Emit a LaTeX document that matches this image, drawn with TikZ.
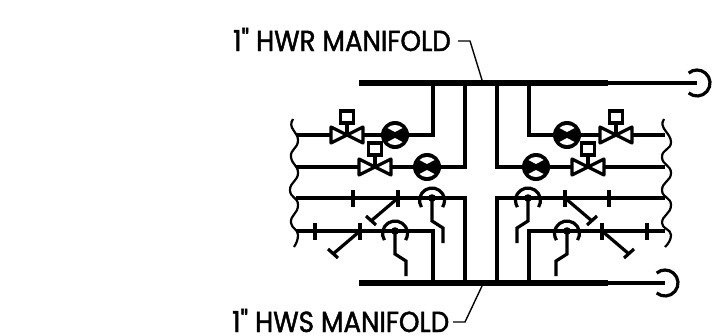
\documentclass[tikz,border=0pt]{standalone}
\usepackage{fontspec}
\newfontfamily\tagfont[FakeBold=1.6,FakeStretch=0.9]{Poppins}
\usetikzlibrary{positioning}
\tikzset{
  pipe/.style={line width=3.2pt},
  symbol/.style={line width=3.2pt},
  manifold/.style={line width=5.8pt},
  leader/.style={line width=1.4pt},
  breakline/.style={line width=2.2pt},
  tag/.style={anchor=base west,inner sep=0pt,text depth=0pt,font=\tagfont\fontsize{29}{29}\selectfont},
  ctrlvalve/.pic={
    \draw[symbol,fill=white,line join=round] (-16,-8) -- (16,8) -- (16,-8) -- (-16,8) -- cycle;
    \draw[symbol] (0,0) -- (0,-12);
    \draw[symbol,fill=white] (-6.2,-24) rectangle (6.2,-12);
  },
  balvalve/.pic={
    \fill (0,0) circle (14);
    \fill[white] (0,-3) -- (7.5,-7) .. controls (4,-11) and (-4,-11) .. (-7.5,-7) -- cycle;
    \fill[white] (0,3) -- (7.5,7) .. controls (4,11) and (-4,11) .. (-7.5,7) -- cycle;
  },
  gaugetap/.pic={
    \draw[pipe] ([shift={(0,2.5)}]148:12.5) arc[start angle=148,end angle=392,radius=12.5];
    \fill (0,0) circle (3.8);
    \draw[pipe] (0,0) -- (0,23) -- (11,30) -- (11,45);
  },
  tapoff/.pic={
    \draw[pipe] (0,-8.5) -- (0,8.5);
    \draw[pipe] (0,0) -- (-27,23);
    \draw[pipe] (-32,18) -- (-22,27);
  },
  endcap/.pic={
    \draw[pipe] (130:13) arc[start angle=130,end angle=-130,radius=13];
  },
}
\begin{document}
\begin{tikzpicture}[x=1pt,y=-1pt]
  \useasboundingbox (0,0) rectangle (719,335);

  % manifold ends and pipe runs
  \coordinate (topl) at (359,83);
  \coordinate (topr) at (608,83);
  \coordinate (topend) at (697,83);
  \coordinate (botl) at (359,283);
  \coordinate (botr) at (608,283);
  \coordinate (botend) at (665,283);

  % left rows
  \draw[pipe,line join=miter] (433,83) -- (433,135) -- (296,135);
  \draw[pipe,line join=miter] (465,83) -- (465,167) -- (296,167);
  \draw[pipe,line join=miter] (465,283) -- (465,198) -- (296,198);
  \draw[pipe,line join=miter] (433,283) -- (433,231) -- (296,231);
  % right rows
  \draw[pipe,line join=miter] (529,83) -- (529,135) -- (665,135);
  \draw[pipe,line join=miter] (497,83) -- (497,167) -- (665,167);
  \draw[pipe,line join=miter] (497,283) -- (497,198) -- (665,198);
  \draw[pipe,line join=miter] (529,283) -- (529,231) -- (665,231);

  \draw[manifold] (topl) -- (topr);
  \draw[pipe] (topr) -- (topend);
  \draw[manifold] (botl) -- (botr);
  \draw[pipe] (botr) -- (botend);
  \pic at (topend) {endcap};
  \pic at (botend) {endcap};

  % valves
  \pic at (347,135) {ctrlvalve};
  \pic at (375,167) {ctrlvalve};
  \pic at (616,135) {ctrlvalve};
  \pic at (588,167) {ctrlvalve};
  \pic at (395,135) {balvalve};
  \pic at (427,167) {balvalve};
  \pic at (567,135) {balvalve};
  \pic at (536,167) {balvalve};

  % gauge tappings
  \pic at (432,198) {gaugetap};
  \pic at (395,231) {gaugetap};
  \pic[xscale=-1] at (528,198) {gaugetap};
  \pic[xscale=-1] at (567,231) {gaugetap};

  % ticks
  \draw[pipe] (353,189.5) -- (353,206.5);
  \draw[pipe] (315,222.5) -- (315,239.5);
  \draw[pipe] (609,189.5) -- (609,206.5);
  \draw[pipe] (647,222.5) -- (647,239.5);
  \pic at (398,198) {tapoff};
  \pic at (360,231) {tapoff};
  \pic[xscale=-1] at (565,198) {tapoff};
  \pic[xscale=-1] at (602,231) {tapoff};

  % break lines
  \draw[breakline] (293,119) .. controls (287,128) and (298,132) .. (298,140)
    .. controls (298,149) and (290,149) .. (291,157)
    .. controls (292,165) and (298,165) .. (298,173)
    .. controls (298,181) and (290,182) .. (290,190)
    .. controls (290,198) and (298,197) .. (298,205)
    .. controls (298,214) and (290,215) .. (291,223)
    .. controls (292,229) and (298,229) .. (298,235)
    .. controls (298,240) and (296,244) .. (294,247);
  \draw[breakline] (664,119) .. controls (658,128) and (671,133) .. (671,142)
    .. controls (671,150) and (662,149) .. (662,157)
    .. controls (662,165) and (671,165) .. (671,173)
    .. controls (671,181) and (662,182) .. (662,190)
    .. controls (662,198) and (671,197) .. (671,205)
    .. controls (671,214) and (662,215) .. (662,223)
    .. controls (662,229) and (671,229) .. (671,235)
    .. controls (671,240) and (668,244) .. (665,247);

  % labels
  \node[tag] (hwrlabel) at (233,51) {1" HWR MANIFOLD};
  \node[tag] (hwslabel) at (232,332) {1" HWS MANIFOLD};
  \coordinate (hwrbend) at (470,41);
  \coordinate (hwsbend) at (465,322);
  \draw[leader] (458,41) -- (hwrbend) -- (482,80);
  \draw[leader] (453,322) -- (hwsbend) -- (482,286);
\end{tikzpicture}
\end{document}
